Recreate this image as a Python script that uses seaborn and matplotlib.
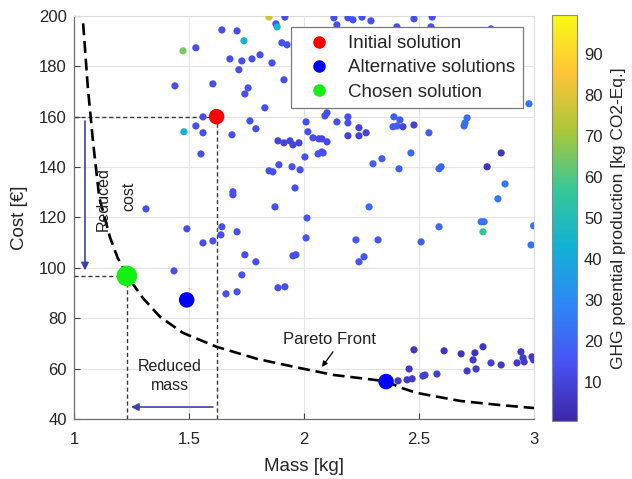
import numpy as np
import pandas as pd
import matplotlib
matplotlib.use("Agg")
import matplotlib.pyplot as plt
from matplotlib.colors import LinearSegmentedColormap, Normalize
from matplotlib.cm import ScalarMappable
from matplotlib.lines import Line2D
import seaborn as sns

# ---------------- data ----------------
mass = [1.848, 1.917, 2.130, 2.143, 1.878, 1.883, 1.643, 1.709, 1.739, 1.474,
        1.530, 1.678, 1.730, 1.774, 1.809, 1.861, 1.717, 1.904, 1.926, 1.439,
        1.604, 1.757, 1.743, 1.913, 1.830, 2.191, 2.213, 2.252, 2.291, 2.404,
        2.478, 2.557, 2.552, 2.813, 2.978, 1.561, 1.530, 1.561, 1.478, 1.687,
        1.765, 1.791, 1.552, 1.887, 1.913, 1.939, 1.952, 1.978, 2.004, 1.848,
        1.865, 1.891, 1.948, 1.983, 1.691, 1.691, 1.961, 1.874, 2.009, 2.017,
        2.039, 2.065, 2.078, 2.100, 2.061, 2.078, 2.083, 2.091, 2.100, 2.143,
        2.191, 2.191, 2.191, 2.239, 2.239, 2.270, 2.391, 2.417, 2.387, 2.404,
        2.430, 2.478, 2.543, 2.709, 2.700, 2.696, 2.465, 2.339, 2.300, 2.413,
        2.587, 2.596, 2.796, 2.857, 2.874, 2.843, 2.283, 2.770, 2.013, 2.009,
        2.226, 2.261, 2.239, 2.322, 2.509, 2.587, 2.783, 2.778, 2.998, 2.987,
        1.313, 1.491, 1.561, 1.604, 1.643, 1.639, 1.709, 1.743, 1.791, 1.730,
        1.952, 1.965, 1.435, 1.661, 1.709, 1.887, 1.917, 2.478, 2.609, 2.683,
        2.743, 2.778, 2.735, 2.748, 2.709, 2.813, 2.857, 2.943, 2.952, 2.957,
        2.926, 2.991, 2.998, 2.457, 2.448, 2.470, 2.409, 2.517, 2.526, 2.578]
cost = [199.5, 199.5, 199.2, 196.4, 196.8, 195.6, 194.4, 194.0, 190.1, 186.1,
        187.3, 182.9, 182.1, 182.9, 184.5, 181.3, 178.6, 189.3, 188.5, 172.2,
        173.0, 171.4, 169.0, 174.6, 163.5, 199.2, 198.4, 199.5, 198.0, 195.6,
        198.8, 199.5, 195.6, 194.8, 165.1, 159.9, 156.3, 153.6, 154.0, 152.8,
        158.3, 155.2, 145.2, 150.4, 149.6, 150.4, 148.8, 149.6, 144.0, 138.5,
        138.1, 140.9, 140.1, 138.9, 130.2, 129.0, 131.7, 124.2, 157.9, 154.0,
        151.6, 151.2, 151.2, 150.0, 145.2, 146.0, 145.6, 160.3, 161.5, 157.9,
        159.9, 157.5, 152.4, 152.4, 155.6, 153.6, 159.9, 158.7, 156.0, 156.3,
        156.0, 156.7, 153.6, 159.5, 157.5, 156.3, 145.6, 143.3, 141.3, 139.3,
        139.3, 140.1, 140.1, 145.6, 133.3, 127.4, 124.2, 118.3, 119.8, 111.9,
        111.1, 104.4, 102.4, 111.1, 110.3, 116.3, 118.3, 114.3, 116.7, 109.1,
        123.4, 115.5, 109.9, 110.7, 116.3, 113.1, 114.3, 105.2, 102.4, 97.2,
        104.8, 105.2, 98.8, 89.7, 90.5, 92.1, 92.5, 67.5, 67.1, 65.9,
        66.3, 68.7, 63.5, 59.9, 59.1, 62.3, 61.5, 66.7, 64.3, 62.7,
        62.3, 64.7, 63.5, 59.9, 55.6, 56.0, 55.2, 57.1, 57.5, 57.9]
ghg = [78, 14, 14, 14, 14, 45, 14, 14, 45, 65,
       14, 14, 14, 14, 14, 14, 14, 14, 14, 14,
       14, 14, 14, 14, 14, 14, 14, 14, 14, 14,
       14, 14, 14, 18, 24, 14, 14, 14, 45, 14,
       14, 14, 14, 10, 10, 10, 10, 10, 14, 14,
       14, 14, 14, 14, 14, 14, 14, 14, 14, 14,
       14, 12, 12, 12, 14, 14, 14, 14, 14, 14,
       14, 14, 10, 10, 10, 10, 17, 17, 17, 17,
       10, 10, 18, 22, 22, 22, 21, 18, 18, 18,
       20, 20, 5, 6, 24, 24, 21, 24, 16, 16,
       16, 16, 16, 16, 18, 21, 24, 55, 24, 24,
       14, 14, 14, 14, 14, 14, 14, 14, 14, 14,
       14, 14, 14, 14, 14, 14, 14, 6, 6, 6,
       6, 6, 7, 7, 7, 9, 7, 6, 7, 7,
       7, 7, 7, 7, 7, 7, 7, 9, 9, 9]

initial_mass, initial_cost = [1.62], [160.0]
chosen_mass, chosen_cost = [1.23], [96.8]
alt_mass, alt_cost = [1.49, 2.357], [87.3, 54.9]

pareto_mass = [1.04, 1.06, 1.083, 1.11, 1.157, 1.19, 1.23, 1.30, 1.374, 1.474, 1.62,
               1.80, 1.98, 2.13, 2.25, 2.357, 2.42, 2.49, 2.68, 2.85, 3.0]
pareto_cost = [197, 172, 150, 128, 112, 104, 97, 88, 80.6, 74.2, 68.7,
               63.8, 60.3, 57.5, 56.2, 55.0, 52.5, 50.4, 47.2, 45.6, 44.4]

ghg_range = (0.6, 99.5)
x_ticks = [1, 1.5, 2, 2.5, 3]
y_ticks = [40, 60, 80, 100, 120, 140, 160, 180, 200]
cb_ticks = [10, 20, 30, 40, 50, 60, 70, 80, 90]

# ---------------- style ----------------
sns.set_theme(style="white")
plt.rcParams["font.family"] = ["Liberation Sans", "DejaVu Sans"]

parula = LinearSegmentedColormap.from_list("parula", [
    (0.2422, 0.1504, 0.6603), (0.2810, 0.3228, 0.9579), (0.1786, 0.5289, 0.9682),
    (0.0689, 0.6948, 0.8394), (0.2161, 0.7843, 0.5923), (0.6720, 0.7793, 0.2227),
    (0.9970, 0.7659, 0.2199), (0.9769, 0.9839, 0.0805)])

fig = plt.figure(figsize=(6.32, 4.79), dpi=100)
ax = fig.add_axes([0.117, 0.125, 0.728, 0.842])
cax = fig.add_axes([0.873, 0.121, 0.040, 0.848])

df = pd.DataFrame({"Mass": mass, "Cost": cost, "GHG": ghg})

ax.grid(True, color="#e4e4e4", lw=0.8, zorder=0)
ax.set_axisbelow(True)

# guide lines
gl = dict(color="#3a3a3a", lw=1.0, ls=(0, (3, 2)), zorder=2)
ax.plot([1, initial_mass[0]], [initial_cost[0], initial_cost[0]], **gl)
ax.plot([initial_mass[0], initial_mass[0]], [40, initial_cost[0]], **gl)
ax.plot([1, chosen_mass[0]], [chosen_cost[0], chosen_cost[0]], **gl)
ax.plot([chosen_mass[0], chosen_mass[0]], [40, chosen_cost[0]], **gl)

sns.scatterplot(data=df, x="Mass", y="Cost", hue="GHG", palette=parula,
                hue_norm=ghg_range, s=27, edgecolor="none", legend=False,
                ax=ax, zorder=3)

sns.lineplot(x=pareto_mass, y=pareto_cost, color="black", lw=1.9,
             linestyle=(0, (4.5, 2.2)), ax=ax, zorder=4, sort=False)

sns.scatterplot(x=initial_mass, y=initial_cost, color="#ff0000", s=125,
                edgecolor="none", ax=ax, zorder=5)
sns.scatterplot(x=chosen_mass, y=chosen_cost, color="#11f011", s=220,
                edgecolor="none", ax=ax, zorder=5)
sns.scatterplot(x=alt_mass, y=alt_cost, color="#0000ff", s=125,
                edgecolor="none", ax=ax, zorder=5)

# arrows & annotations
arrow_col = "#4040b0"
ax.annotate("", xy=(1.048, 99.0), xytext=(1.048, 158.3),
            arrowprops=dict(arrowstyle="-|>", color=arrow_col, lw=1.2,
                            mutation_scale=11, shrinkA=0, shrinkB=0), zorder=6)
ax.annotate("", xy=(1.248, 44.8), xytext=(1.604, 44.8),
            arrowprops=dict(arrowstyle="-|>", color=arrow_col, lw=1.2,
                            mutation_scale=11, shrinkA=0, shrinkB=0), zorder=6)
ax.annotate("", xy=(2.078, 60.7), xytext=(2.126, 66.7),
            arrowprops=dict(arrowstyle="-|>", color="black", lw=0.9,
                            mutation_scale=8, shrinkA=0, shrinkB=0), zorder=6)

ax.text(1.128, 127.4, "Reduced", rotation=90, ha="center", va="center",
        fontsize=11.5, color="#222222", zorder=6)
ax.text(1.237, 128.2, "cost", rotation=90, ha="center", va="center",
        fontsize=11.5, color="#222222", zorder=6)
ax.text(1.417, 57.0, "Reduced\nmass", ha="center", va="center",
        fontsize=11.5, color="#222222", linespacing=1.3, zorder=6)
ax.text(2.109, 71.4, "Pareto Front", ha="center", va="center",
        fontsize=12, color="#222222", zorder=6)

ax.set_xlim(1, 3)
ax.set_ylim(40, 200)
ax.set_xticks(x_ticks)
ax.set_xticklabels(["1", "1.5", "2", "2.5", "3"])
ax.set_yticks(y_ticks)
ax.set_xlabel("Mass [kg]", fontsize=13.5, color="#262626", labelpad=8)
ax.set_ylabel("Cost [€]", fontsize=13.5, color="#262626", labelpad=8)
ax.tick_params(axis="both", direction="in", length=4, width=0.8,
               colors="#404040", labelsize=12, labelcolor="#262626",
               bottom=True, left=True)
ax.tick_params(axis="x", pad=9)
ax.tick_params(axis="y", pad=5)
for s in ["left", "bottom"]:
    ax.spines[s].set_color("#6e6e6e")
    ax.spines[s].set_linewidth(0.9)
for s in ["top", "right"]:
    ax.spines[s].set_color("#dcdcdc")
    ax.spines[s].set_linewidth(0.8)

handles = [Line2D([], [], marker="o", ls="none", color=c, markersize=8)
           for c in ["#ff0000", "#0000ff", "#11f011"]]
leg = ax.legend(handles, ["Initial solution", "Alternative solutions", "Chosen solution"],
                loc="upper right", bbox_to_anchor=(0.976, 0.972), fontsize=13.5,
                frameon=True, fancybox=False, edgecolor="#7a7a7a", framealpha=1,
                handletextpad=0.5, borderpad=0.42, labelspacing=0.38,
                handlelength=2.1, borderaxespad=0)
leg.get_frame().set_linewidth(0.9)
leg.set_zorder(10)

# colorbar
sm = ScalarMappable(norm=Normalize(*ghg_range), cmap=parula)
cb = fig.colorbar(sm, cax=cax, ticks=cb_ticks)
cb.outline.set_edgecolor("#8a8a8a")
cb.outline.set_linewidth(0.8)
cax.tick_params(direction="in", length=4, width=0.8, colors="#404040",
                labelsize=12, labelcolor="#262626", pad=5)
cb.set_label("GHG potential production [kg CO2-Eq.]", fontsize=12.5,
             color="#262626", labelpad=6)

fig.savefig("out.png", dpi=100, facecolor="white")
